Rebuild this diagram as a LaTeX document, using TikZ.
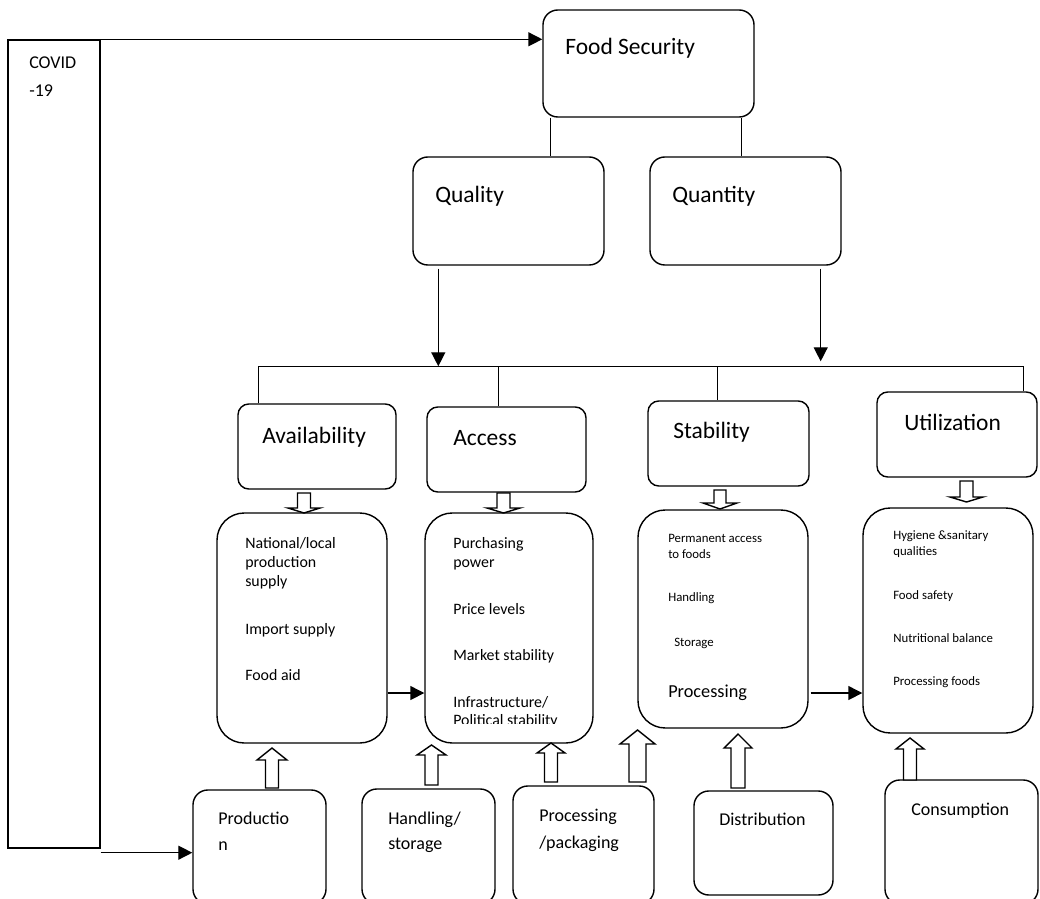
\documentclass[tikz,border=0pt]{standalone}
\usepackage{fontspec}
\setmainfont{Carlito}
\usetikzlibrary{positioning,calc,arrows.meta,fit}
\tikzset{
  sqbox/.style ={draw, line width=1pt, inner sep=0pt},
  box/.style   ={sqbox, rounded corners=0.37cm},
  hbox/.style  ={sqbox, rounded corners=0.27cm},
  bigbox/.style={sqbox, rounded corners=0.68cm},
  flow/.style  ={-{Triangle[length=0.35cm, width=0.35cm]}, line width=1pt},
  link/.style  ={line width=1pt},
  hol/.style   ={draw, line width=1pt, fill=white, line join=miter},
  hd/.style    ={font=\fontsize{16.7}{20}\selectfont, inner sep=0pt, anchor=base west},
  mid/.style   ={font=\fontsize{12.8}{15}\selectfont, inner sep=0pt, anchor=base west},
  sm/.style    ={font=\fontsize{11.3}{13.5}\selectfont, inner sep=0pt, anchor=base west},
  tn/.style    ={font=\fontsize{9.1}{11}\selectfont, inner sep=0pt, anchor=base west},
}
% hollow block arrow: x, tail y, head base y, tip y, half shaft, half head
\newcommand\hollowarrow[6]{%
  \draw[hol] (#1-#5,#2) -- (#1-#5,#3) -- (#1-#6,#3) -- (#1,#4)
    -- (#1+#6,#3) -- (#1+#5,#3) -- (#1+#5,#2) -- cycle;}

\begin{document}
\begin{tikzpicture}[x=0.025cm, y=-0.025cm]
    \useasboundingbox (0,0) rectangle (1040,899);
    % boxes
    \node[sqbox, fit={(8,40) (100,848)}] (cov) {};
    \node[box, fit={(543,10) (754,117)}] (fs) {};
    \node[box, fit={(413,157) (604,265)}] (ql) {};
    \node[box, fit={(650,157) (841,265)}] (qn) {};
    \node[hbox, fit={(238,404) (396,489)}] (av) {};
    \node[hbox, fit={(427,407) (586,492)}] (ac) {};
    \node[hbox, fit={(648,401) (809,486)}] (st) {};
    \node[hbox, fit={(877,392) (1037,477)}] (ut) {};
    \node[bigbox, fit={(217,513) (387,743)}] (avc) {};
    \node[bigbox, fit={(425,513) (593,743)}] (acc) {};
    \node[bigbox, fit={(638,510) (808,728)}] (stc) {};
    \node[bigbox, fit={(863,508) (1033,733)}] (utc) {};
    \node[box, fit={(193,790) (326,904)}] (pr) {};
    \node[box, fit={(362,789) (495,904)}] (hs) {};
    \node[box, fit={(513,786) (654,904)}] (pp) {};
    \node[box, fit={(694,791) (833,895)}] (ds) {};
    \node[box, fit={(885,780) (1038,904)}] (cs) {};

    % labels
    \node[mid] (covT1) at (29,69) {COVID};
    \node[mid] (covT2) at (29,97) {-19};
    \node[hd] (fsT) at (565,55) {Food Security};
    \node[hd] (qlT) at (435,203) {Quality};
    \node[hd] (qnT) at (672,203) {Quantity};
    \node[hd] (avT) at (262,443) {Availability};
    \node[hd] (acT) at (453,445) {Access};
    \node[hd] (stT) at (673,438) {Stability};
    \node[hd] (utT) at (904,431) {Utilization};

    \foreach \yy/\tx [count=\i] in {548/{National/local}, 567/production, 586/supply,
        634/Import supply, 680/Food aid}
      \node[sm] (avc\i) at (245,\yy) {\tx};
    \foreach \yy/\tx [count=\i] in {548/Purchasing, 567/power, 614/Price levels,
        660/Market stability, 707/{Infrastructure/}}
      \node[sm] (acc\i) at (453,\yy) {\tx};
    \begin{scope}
      \clip (425,690) rectangle (593,723);
      \node[sm] (acc6) at (453,725) {Political stability};
    \end{scope}
    \foreach \yy/\tx [count=\i] in {542/Permanent access, 558/to foods, 601/Handling}
      \node[tn] (stc\i) at (668,\yy) {\tx};
    \node[tn] (stc4) at (674,646) {Storage};
    \node[font=\fontsize{13}{15}\selectfont, inner sep=0pt, anchor=base west] (stc5) at (668,697) {Processing};
    \foreach \yy/\tx [count=\i] in {539/{Hygiene \&sanitary}, 555/qualities, 599/Food safety,
        642/Nutritional balance, 685/Processing foods}
      \node[tn] (utc\i) at (893,\yy) {\tx};

    \node[mid] (prT1) at (218,824) {Productio};
    \node[mid] (prT2) at (218,850) {n};
    \node[mid] (hsT1) at (388,824) {Handling/};
    \node[mid] (hsT2) at (388,849) {storage};
    \node[mid] (ppT1) at (539,821) {Processing};
    \node[mid] (ppT2) at (539,848) {/packaging};
    \node[mid] (dsT) at (719,825) {Distribution};
    \node[mid] (csT) at (911,815) {Consumption};

    % COVID links
    \coordinate (covB) at ([yshift=-0.1cm]cov.south east);
    \draw[flow] (cov.north east) -- (fs.west |- cov.north east);
    \draw[flow] (covB) -- (covB -| pr.west);

    % food security to quality / quantity
    \coordinate (fsL) at ([xshift=0.2cm]fs.south west);
    \coordinate (fsR) at ([xshift=-0.325cm]fs.south east);
    \draw[link] (fsL) -- (fsL |- ql.north);
    \draw[link] (fsR) -- (fsR |- qn.north);

    % bus to the four pillars
    \coordinate (busL) at ($(av.north west)+(21,-37)$);
    \coordinate (utL) at ([xshift=-0.35cm]ut.north east);
    \coordinate (acL) at ([xshift=1.8cm]ac.north west);
    \coordinate (stL) at ([xshift=1.75cm]st.north west);
    \draw[link] (busL |- av.north) -- (busL) -- (utL |- busL) -- (utL);
    \draw[link] (acL |- busL) -- (acL);
    \draw[link] (stL |- busL) -- (stL);
    \coordinate (qlA) at ([xshift=0.65cm, yshift=-0.075cm]ql.south west);
    \coordinate (qnA) at ([xshift=-0.525cm, yshift=-0.075cm]qn.south east);
    \draw[flow] (qlA) -- (qlA |- busL);
    \draw[flow, shorten >=0.125cm] (qnA) -- (qnA |- busL);

    % content to content
    \coordinate (avA) at ([yshift=-1.625cm]avc.east);
    \coordinate (stA) at ([yshift=-1.85cm]stc.east);
    \draw[flow] (avA) -- (avA -| acc.west);
    \draw[flow] ([xshift=0.05cm]stA) -- (stA -| utc.west);

    % hollow arrows, pillars down to contents
    \hollowarrow{304}{493}{508}{513}{6.5}{16}
    \hollowarrow{503.5}{493}{508}{513}{6.5}{16.5}
    \hollowarrow{720}{490}{503}{509}{6}{17}
    \hollowarrow{966.5}{481}{497}{502}{6.5}{16.5}
    % hollow arrows, chain stages up
    \hollowarrow{272}{788}{760}{748}{6.5}{15}
    \hollowarrow{431.5}{785}{755}{745}{6.5}{14.5}
    \hollowarrow{551}{782}{753}{743}{6.5}{14}
    \hollowarrow{637.5}{782}{744}{730}{8.5}{17.5}
    \hollowarrow{738}{788}{748}{734}{7}{14}
    \hollowarrow{910}{780}{749}{738}{6.5}{14}
\end{tikzpicture}
\end{document}
